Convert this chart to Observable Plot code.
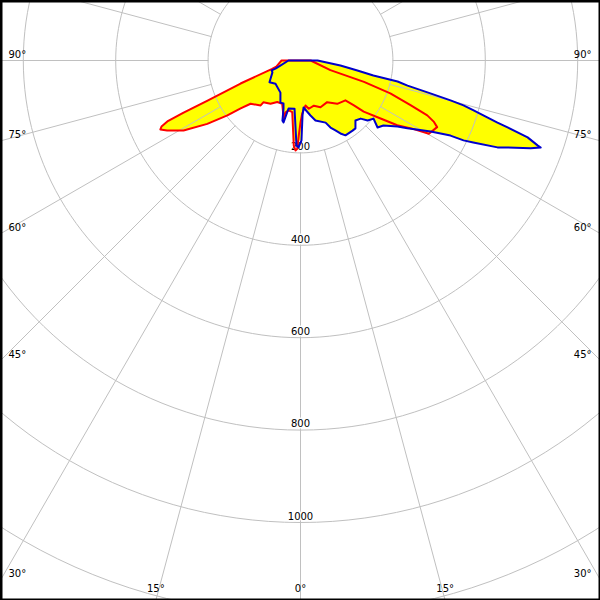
<!DOCTYPE html>
<html><head><meta charset="utf-8">
<script src="https://cdn.jsdelivr.net/npm/d3@7"></script>
<script src="https://cdn.jsdelivr.net/npm/@observablehq/plot@0.6"></script>
<style>html,body{margin:0;padding:0;background:#fff}#chart svg{display:block}</style>
</head><body><div id="chart"></div>
<script>
// Rings (cd) and their labels
const ringValues = [200, 400, 600, 800, 1000, 1200];
const ringLabels = ["200", "400", "600", "800", "1000"];
// Spokes every 15 degrees (0 = straight down)
const spokeAngles = [-180,-165,-150,-135,-120,-105,-90,-75,-60,-45,-30,-15,0,15,30,45,60,75,90,105,120,135,150,165];
const angleLabels = [90, 75, 60, 45, 30, 15, 0];
// Blue curve: signed gamma angle (deg, left negative) and intensity (cd), in drawing order
const blueAngles = [-90,-76,-72,-71,-67,-55,-47,-32,-25.5,-21.6,-19.5,-16.7,-15.3,-14,-7.1,-2.7,-1.3,0.7,2.1,3.7,10.3,14,22,24.1,26.6,28.7,31,36.6,39,42.5,46,48.2,51.5,49,51.9,55.8,57.6,61.4,63.4,63.9,64.6,66.2,67.2,69.1,70.1,70.3,71.3,72.1,72.5,73.9,74.6,75.1,75.8,76.8,77.8,78.4,80,82.9,90];
const blueValues = [26,45,57,66,66,82,74,82,101,100,110,136,139,107,105,184,188,173,119,102,121,134,145,159,169,180,189,189,189,176,181,195,202,221,228,254,274,321,363,393,414,466,486,533,553,545,519,471,447,390,366,336,290,238,215,161,125,87,37];
// Red curve
const redAngles = [-90,-76,-73.7,-69,-66.7,-66,-65.4,-64.6,-63.8,-62.3,-59.1,-55.8,-53.1,-51.3,-49.1,-41.6,-41.6,-34.7,-29.2,-22.9,-16,-16.2,-13.2,-9.1,-4.5,-3.2,-2.1,-1.3,0,1.8,6.3,9.8,16.5,23.2,32.6,40.3,48.4,50,51,54.1,56.2,58.6,60.3,64,65.3,66.6,67.9,69.9,71.4,72.1,90];
const redValues = [41,54,64,139,219,277,317,333,338,326,295,244,198,166,143,130,121,114,103,102,131,117,111,113,185,195,191,162,134,115,98,106,102,110,107,123,130,151,176,214,252,283,320,329,318,299,257,207,145,68,22];

const W = 600, H = 600;
const pxPerCd = 0.462;       // ring spacing: 200 cd ≈ 92.4 px
const originPx = {x: 300, y: 60};
const xDom = [-originPx.x / pxPerCd, (W - originPx.x) / pxPerCd];
const yDom = [-(H - originPx.y) / pxPerCd, originPx.y / pxPerCd];
const rad = d => d * Math.PI / 180;
const pol = (g, r) => ({x: r * Math.sin(rad(g)), y: -r * Math.cos(rad(g))});

const blue = blueAngles.map((g, i) => pol(g, blueValues[i]));
const red = redAngles.map((g, i) => pol(g, redValues[i]));

const rings = ringValues.flatMap(r => d3.range(0, 361, 2).map(a => ({...pol(a, r), r})));
const spokes = spokeAngles.flatMap(a => [{...pol(a, ringValues[0]), a}, {...pol(a, 1600), a}]);

// angle labels: where each spoke leaves the frame
const edgeLabels = [];
for (const a of angleLabels) {
  for (const s of (a === 0 ? [1] : [-1, 1])) {
    const g = rad(a);
    const sx = Math.sin(g), cy = Math.cos(g);
    const tSide = sx > 1e-9 ? (xDom[1]) / sx : Infinity;
    const tBot = cy > 1e-9 ? (-yDom[0]) / cy : Infinity;
    if (tSide < tBot || a === 90) {
      edgeLabels.push({x: s * xDom[1], y: -tSide * cy, side: s, text: a + "°", kind: "side"});
    } else {
      edgeLabels.push({x: s * tBot * sx, y: yDom[0], side: s, text: a + "°", kind: "bottom"});
    }
  }
}
const ringText = ringLabels.map((t, i) => ({x: 0, y: -ringValues[i], text: t}));

const grid = "#c0c0c0";
const font = "DejaVu Sans";
const chart = Plot.plot({
  width: W, height: H,
  margin: 0,
  x: {domain: xDom, axis: null},
  y: {domain: yDom, axis: null},
  style: {fontFamily: font, fontSize: "10px", background: "white"},
  marks: [
    Plot.line(blue, {x: "x", y: "y", fill: "#ffff00", stroke: "none", curve: "linear-closed"}),
    Plot.line(red, {x: "x", y: "y", fill: "#ffff00", stroke: "none", curve: "linear-closed"}),
    Plot.line(rings, {x: "x", y: "y", z: "r", stroke: grid, strokeWidth: 1, clip: true}),
    Plot.line(spokes, {x: "x", y: "y", z: "a", stroke: grid, strokeWidth: 1, clip: true}),
    Plot.text(ringText, {x: "x", y: "y", text: "text", dy: -6, fill: "black", stroke: "white", strokeWidth: 3, fontSize: 10}),
    Plot.text(edgeLabels.filter(d => d.kind === "side" && d.side < 0), {x: "x", y: "y", text: "text", textAnchor: "start", dx: 8, dy: -6, fill: "black", fontSize: 10}),
    Plot.text(edgeLabels.filter(d => d.kind === "side" && d.side > 0), {x: "x", y: "y", text: "text", textAnchor: "end", dx: -9, dy: -6, fill: "black", fontSize: 10}),
    Plot.text(edgeLabels.filter(d => d.kind === "bottom"), {x: "x", y: "y", text: "text", textAnchor: "middle", dy: -12, fill: "black", fontSize: 10}),
    Plot.line(red, {x: "x", y: "y", stroke: "#ff0000", strokeWidth: 2, curve: "linear-closed"}),
    Plot.line(blue, {x: "x", y: "y", stroke: "#0000cc", strokeWidth: 2, curve: "linear-closed"}),
    Plot.frame({stroke: "black", strokeWidth: 4})
  ]
});
document.getElementById("chart").append(chart);
</script>
</body></html>
